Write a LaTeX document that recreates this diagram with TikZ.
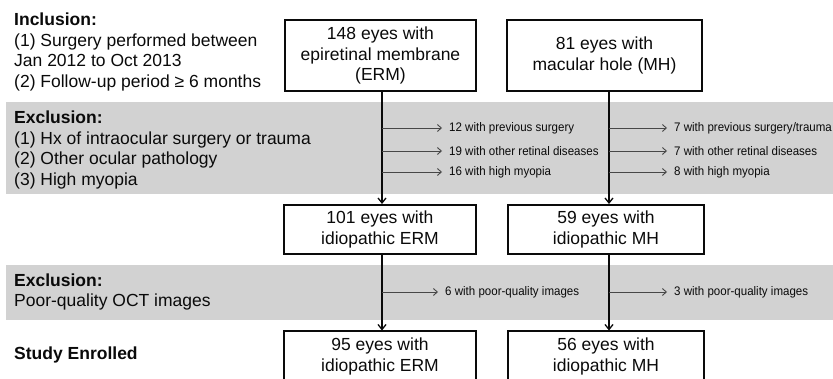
\documentclass[tikz,border=0pt]{standalone}
\usepackage{fontspec}
\setmainfont{Liberation Sans}
\newfontfamily\narrowsans[FakeStretch=0.93]{Liberation Sans}
\usetikzlibrary{arrows.meta}
\definecolor{bandgray}{RGB}{210,210,210}
\definecolor{inkc}{RGB}{10,10,10}
\begin{document}
\begin{tikzpicture}[x=1pt,y=-1pt,
  big/.style={font=\fontsize{17.5}{20.7}\selectfont, align=left, inner sep=0, anchor=west, text=inkc},
  small/.style={font=\narrowsans\fontsize{12.4}{14}\selectfont, inner xsep=7pt, inner ysep=0pt, anchor=west, text=inkc},
  box/.style={draw=inkc, line width=2pt, font=\fontsize{17.5}{20.7}\selectfont, align=center, inner sep=0pt, text=inkc},
  mainarrow/.style={draw=inkc, line width=1.3pt, -{Straight Barb[length=5pt,width=8pt]}},
  branch/.style={line width=0.9pt, draw=black!72, -{Straight Barb[length=4pt,width=7pt]}}]
\clip (0,0) rectangle (833,379);
% bands
\fill[bandgray] (6,102) rectangle (833,194);
\fill[bandgray] (6,265) rectangle (833,320);
% left labels
\node[big] (incl) at (14,52) {\textbf{Inclusion:}\\(1) Surgery performed between\\Jan 2012 to Oct 2013\\(2) Follow-up period ≥ 6 months};
\node[big] (excl1) at (14,150) {\textbf{Exclusion:}\\(1) Hx of intraocular surgery or trauma\\(2) Other ocular pathology\\(3) High myopia};
\node[big] (excl2) at (14,292) {\textbf{Exclusion:}\\Poor-quality OCT images};
\node[big] (study) at (14,355) {\textbf{Study Enrolled}};
% boxes
\node[box, minimum width=191pt, minimum height=71pt] (erm1) at (380.5,55.5) {148 eyes with\\epiretinal membrane\\(ERM)};
\node[box, minimum width=195pt, minimum height=71pt] (mh1) at (604.5,55.5) {81 eyes with\\macular hole (MH)};
\node[box, minimum width=192pt, minimum height=49pt] (erm2) at (380,229.5) {101 eyes with\\idiopathic ERM};
\node[box, minimum width=196pt, minimum height=49pt] (mh2) at (606,229.5) {59 eyes with\\idiopathic MH};
\node[box, minimum width=192pt, minimum height=50pt] (erm3) at (380,356.5) {95 eyes with\\idiopathic ERM};
\node[box, minimum width=196pt, minimum height=50pt] (mh3) at (606,356.5) {56 eyes with\\idiopathic MH};
% trunk lines
\coordinate (ex) at (382,0);
\coordinate (mx) at (609,0);
\draw[mainarrow] (erm1.south -| ex) -- (erm2.north -| ex);
\draw[mainarrow] (mh1.south -| mx) -- (mh2.north -| mx);
\draw[mainarrow] (erm2.south -| ex) -- (erm3.north -| ex);
\draw[mainarrow] (mh2.south -| mx) -- (mh3.north -| mx);
% branch texts
\node[small] (e1) at (442,128) {12 with previous surgery};
\node[small] (e2) at (442,151) {19 with other retinal diseases};
\node[small] (e3) at (442,172) {16 with high myopia};
\node[small] (m1) at (667,128) {7 with previous surgery/trauma};
\node[small] (m2) at (667,151) {7 with other retinal diseases};
\node[small] (m3) at (667,172) {8 with high myopia};
\node[small] (e4) at (438,292) {6 with poor-quality images};
\node[small] (m4) at (667,292) {3 with poor-quality images};
\foreach \n in {e1,e2,e3,e4} \draw[branch] (\n.west -| ex) -- (\n.west);
\foreach \n in {m1,m2,m3,m4} \draw[branch] (\n.west -| mx) -- (\n.west);
\end{tikzpicture}
\end{document}
